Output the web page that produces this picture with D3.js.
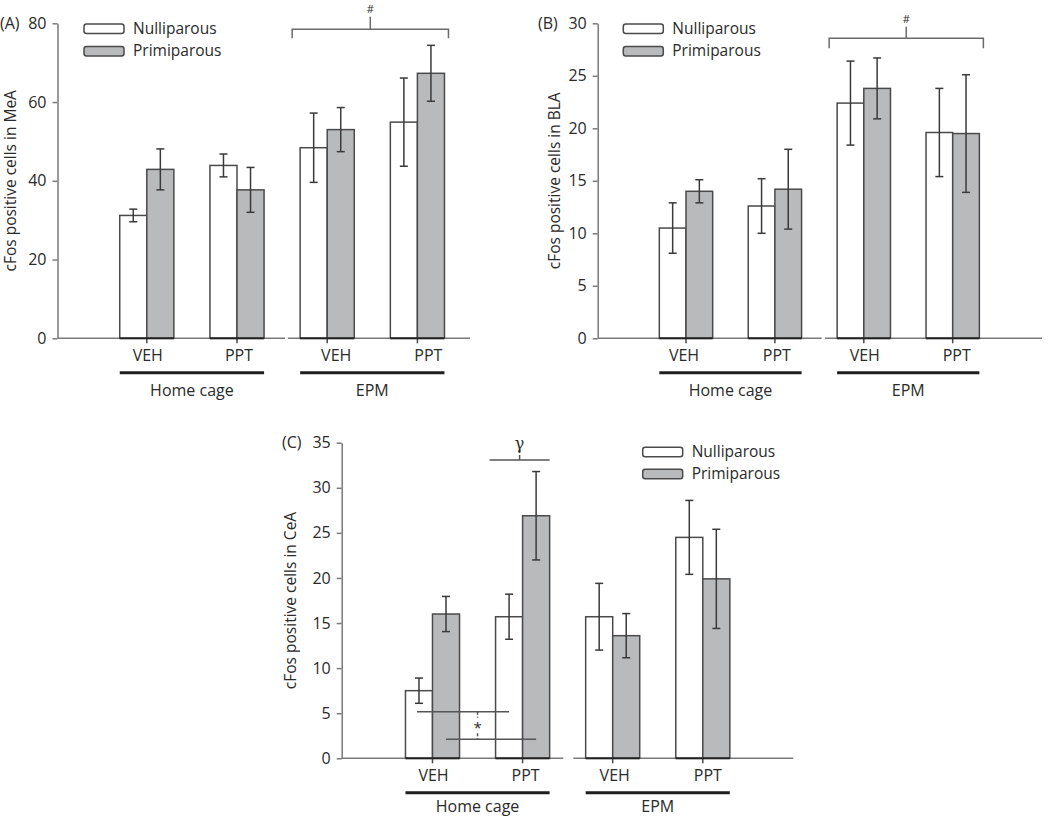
<!DOCTYPE html>
<html>
<head>
<meta charset="utf-8">
<script src="https://cdn.jsdelivr.net/npm/d3@7"></script>
<style>
  html, body { margin: 0; padding: 0; background: #fff; }
  svg { display: block; font-family: "Open Sans", "DejaVu Sans", sans-serif; }
</style>
</head>
<body>
<svg id="chart" width="1050" height="818"></svg>
<script>
// ---------- data ----------
const conditions = ["HC-VEH", "HC-PPT", "EPM-VEH", "EPM-PPT"];
const treatmentLabels = ["VEH", "PPT", "VEH", "PPT"];
const groupLabels = ["Home cage", "EPM"];
const seriesNames = ["Nulliparous", "Primiparous"];

const meaNulliparous = [31.2, 43.9, 48.4, 54.9];
const meaNulliparousErr = [1.6, 2.9, 8.8, 11.2];
const meaPrimiparous = [42.9, 37.7, 53.0, 67.3];
const meaPrimiparousErr = [5.2, 5.7, 5.6, 7.1];
const meaTicks = [0, 20, 40, 60, 80];

const blaNulliparous = [10.5, 12.6, 22.4, 19.6];
const blaNulliparousErr = [2.4, 2.6, 4.0, 4.2];
const blaPrimiparous = [14.0, 14.2, 23.8, 19.5];
const blaPrimiparousErr = [1.1, 3.8, 2.9, 5.6];
const blaTicks = [0, 5, 10, 15, 20, 25, 30];

const ceaNulliparous = [7.5, 15.7, 15.7, 24.5];
const ceaNulliparousErr = [1.4, 2.5, 3.7, 4.1];
const ceaPrimiparous = [16.0, 26.9, 13.6, 19.9];
const ceaPrimiparousErr = [1.95, 4.9, 2.45, 5.5];
const ceaTicks = [0, 5, 10, 15, 20, 25, 30, 35];

// ---------- layout ----------
const svg = d3.select("#chart");
const AXIS = "#7a7a7a", BAR_STROKE = "#4a4a4a", GRAY = "#b9babc", TEXT = "#2a2a2a";

const panels = [
  { letter: "(A)", letterX: 0, title: "cFos positive cells in MeA",
    nul: meaNulliparous, nulErr: meaNulliparousErr, pri: meaPrimiparous, priErr: meaPrimiparousErr,
    ticks: meaTicks, yMax: 80, yBottom: 338.3, yTop: 23.3, axisX: 57.5, titleX: 11,
    c0: 146.8, step: 90.2, seg1End: 285, seg2Start: 288, seg2End: 470,
    labelDx: [1, 2, 9, 11], groupLabelDy: 58,
    legendX: 84, legendY: 24, legendGap: 22.5,
    bracket: { value: 78.5, from: 2, to: 3, drop: 9, rise: 12.5, label: "#" } },
  { letter: "(B)", letterX: 538, title: "cFos positive cells in BLA",
    nul: blaNulliparous, nulErr: blaNulliparousErr, pri: blaPrimiparous, priErr: blaPrimiparousErr,
    ticks: blaTicks, yMax: 30, yBottom: 338.3, yTop: 23.3, axisX: 597.7, titleX: 555,
    c0: 686, step: 88.9, seg1End: 821.7, seg2Start: 825, seg2End: 1042,
    labelDx: [-2, 2, 1, 4], groupLabelDy: 58,
    legendX: 623.3, legendY: 24, legendGap: 22.5,
    bracket: { value: 28.57, from: 2, to: 3, drop: 10, rise: 11.6, label: "#" } },
  { letter: "(C)", letterX: 282, title: "cFos positive cells in CeA",
    nul: ceaNulliparous, nulErr: ceaNulliparousErr, pri: ceaPrimiparous, priErr: ceaPrimiparousErr,
    ticks: ceaTicks, yMax: 35, yBottom: 758.3, yTop: 442.7, axisX: 341.7, titleX: 290.5,
    c0: 432.5, step: 90.1, seg1End: 563.3, seg2Start: 573.3, seg2End: 793.3,
    labelDx: [1, 3, 2, 5], groupLabelDy: 54,
    legendX: 642.7, legendY: 447.3, legendGap: 22,
    gamma: { value: 33.07, cond: 1, label: "γ" },
    star: { upper: 5.15, lower: 2.1, label: "*" } }
];

function drawPanel(p) {
  const g = svg.append("g");
  const y = d3.scaleLinear().domain([0, p.yMax]).range([p.yBottom, p.yTop]);
  const x = d3.scaleBand().domain(conditions)
    .range([p.c0 - p.step / 2, p.c0 - p.step / 2 + 4 * p.step])
    .paddingInner(0.4).paddingOuter(0.2);
  const xs = d3.scaleBand().domain(seriesNames).range([0, x.bandwidth()]);

  // y axis
  const ya = g.append("g").attr("transform", `translate(${p.axisX},0)`)
    .call(d3.axisLeft(y).tickValues(p.ticks).tickSize(5).tickSizeOuter(0).tickPadding(6));
  ya.select(".domain").attr("stroke", AXIS).attr("stroke-width", 1.5);
  ya.selectAll(".tick line").attr("stroke", AXIS).attr("stroke-width", 1.5);
  ya.selectAll(".tick text").attr("fill", TEXT).style("font-size", "16px")
    .style("font-family", '"Open Sans", sans-serif');

  // y title
  g.append("text")
    .attr("transform", `translate(${p.titleX},${(p.yTop + p.yBottom) / 2}) rotate(-90)`)
    .attr("text-anchor", "middle").attr("dy", "0.35em")
    .attr("fill", TEXT).style("font-size", "15.5px").text(p.title);

  // panel letter
  g.append("text").attr("x", p.letterX).attr("y", p.yTop).attr("dy", "0.36em")
    .attr("fill", TEXT).style("font-size", "16px").text(p.letter);

  // broken x axis
  g.append("line").attr("x1", p.axisX).attr("x2", p.seg1End).attr("y1", p.yBottom).attr("y2", p.yBottom)
    .attr("stroke", AXIS).attr("stroke-width", 1.5);
  g.append("line").attr("x1", p.seg2Start).attr("x2", p.seg2End).attr("y1", p.yBottom).attr("y2", p.yBottom)
    .attr("stroke", AXIS).attr("stroke-width", 1.5);

  // x ticks & labels
  const xa = g.append("g").attr("transform", `translate(0,${p.yBottom})`)
    .call(d3.axisBottom(x).tickSize(5).tickSizeOuter(0).tickPadding(6)
      .tickFormat((d, i) => treatmentLabels[i]));
  xa.select(".domain").remove();
  xa.selectAll(".tick line").attr("stroke", BAR_STROKE).attr("stroke-width", 1.5);
  xa.selectAll(".tick text").attr("fill", TEXT).style("font-size", "16px")
    .style("font-family", '"Open Sans", sans-serif')
    .attr("dx", (d, i) => p.labelDx[i]);

  // bars
  const rows = conditions.map((c, i) => ([
    { c, s: seriesNames[0], v: p.nul[i], e: p.nulErr[i] },
    { c, s: seriesNames[1], v: p.pri[i], e: p.priErr[i] }
  ])).flat();

  g.selectAll("rect.bar").data(rows).join("rect").attr("class", "bar")
    .attr("x", d => x(d.c) + xs(d.s))
    .attr("y", d => y(d.v))
    .attr("width", xs.bandwidth())
    .attr("height", d => y(0) - y(d.v))
    .attr("fill", d => d.s === seriesNames[0] ? "#fff" : GRAY)
    .attr("stroke", BAR_STROKE).attr("stroke-width", 1.5);
  // dark bottom edge of bars
  g.selectAll("line.base").data(rows).join("line").attr("class", "base")
    .attr("x1", d => x(d.c) + xs(d.s)).attr("x2", d => x(d.c) + xs(d.s) + xs.bandwidth())
    .attr("y1", y(0)).attr("y2", y(0)).attr("stroke", "#222").attr("stroke-width", 2);

  // error bars
  const cx = d => x(d.c) + xs(d.s) + xs.bandwidth() / 2;
  const eb = g.selectAll("g.err").data(rows).join("g").attr("class", "err")
    .attr("stroke", "#3a3a3a").attr("stroke-width", 1.5);
  eb.append("line").attr("x1", cx).attr("x2", cx).attr("y1", d => y(d.v - d.e)).attr("y2", d => y(d.v + d.e));
  eb.append("line").attr("x1", d => cx(d) - 4).attr("x2", d => cx(d) + 4)
    .attr("y1", d => y(d.v + d.e)).attr("y2", d => y(d.v + d.e));
  eb.append("line").attr("x1", d => cx(d) - 4).attr("x2", d => cx(d) + 4)
    .attr("y1", d => y(d.v - d.e)).attr("y2", d => y(d.v - d.e));

  // group underlines and labels
  groupLabels.forEach((gl, k) => {
    const x1 = x(conditions[2 * k]), x2 = x(conditions[2 * k + 1]) + x.bandwidth();
    g.append("line").attr("x1", x1).attr("x2", x2)
      .attr("y1", p.yBottom + 34.5).attr("y2", p.yBottom + 34.5)
      .attr("stroke", "#1e1e1e").attr("stroke-width", 3);
    g.append("text").attr("x", (x1 + x2) / 2).attr("y", p.yBottom + p.groupLabelDy)
      .attr("text-anchor", "middle").attr("fill", TEXT).style("font-size", "16px").text(gl);
  });

  // legend
  seriesNames.forEach((s, k) => {
    const ly = p.legendY + k * p.legendGap;
    g.append("rect").attr("x", p.legendX).attr("y", ly).attr("width", 40).attr("height", 9.5)
      .attr("rx", 2.5).attr("fill", k === 0 ? "#fff" : GRAY)
      .attr("stroke", BAR_STROKE).attr("stroke-width", 1.5);
    g.append("text").attr("x", p.legendX + 49).attr("y", ly + 9.5)
      .attr("fill", TEXT).style("font-size", "15.5px").text(s);
  });

  // significance bracket (#)
  if (p.bracket) {
    const b = p.bracket;
    const bx1 = x(conditions[b.from]) - 8, bx2 = x(conditions[b.to]) + x.bandwidth() + 4;
    const by = y(b.value), mid = (bx1 + bx2) / 2;
    g.append("path")
      .attr("d", `M${bx1},${by + b.drop}V${by}H${bx2}V${by + b.drop}M${mid},${by}V${by - b.rise}`)
      .attr("fill", "none").attr("stroke", "#6a6a6a").attr("stroke-width", 1.5);
    g.append("text").attr("x", mid).attr("y", by - b.rise - 4).attr("text-anchor", "middle")
      .attr("fill", TEXT).style("font-size", "11px").text(b.label);
  }
  if (p.gamma) {
    const gm = p.gamma;
    const gx1 = x(conditions[gm.cond]) - 6, gx2 = x(conditions[gm.cond]) + x.bandwidth();
    const gy = y(gm.value), mid = (gx1 + gx2) / 2;
    g.append("path").attr("d", `M${gx1},${gy}H${gx2}M${mid},${gy}V${gy - 5}`)
      .attr("fill", "none").attr("stroke", "#555").attr("stroke-width", 1.5);
    g.append("text").attr("x", mid).attr("y", gy - 11).attr("text-anchor", "middle")
      .attr("fill", TEXT).style("font-size", "16px").style("font-family", '"DejaVu Serif", serif')
      .text(gm.label);
  }
  if (p.star) {
    const st = p.star;
    const n0 = { c: conditions[0], s: seriesNames[0] }, n1 = { c: conditions[1], s: seriesNames[0] };
    const p0 = { c: conditions[0], s: seriesNames[1] }, p1 = { c: conditions[1], s: seriesNames[1] };
    const yu = y(st.upper), yl = y(st.lower);
    g.append("line").attr("x1", cx(n0) - 2).attr("x2", cx(n1)).attr("y1", yu).attr("y2", yu)
      .attr("stroke", "#555").attr("stroke-width", 1.5);
    g.append("line").attr("x1", cx(p0)).attr("x2", cx(p1)).attr("y1", yl).attr("y2", yl)
      .attr("stroke", "#555").attr("stroke-width", 1.5);
    const sx = (cx(n0) + cx(p1)) / 2;
    g.append("line").attr("x1", sx).attr("x2", sx).attr("y1", yu).attr("y2", yu + 6)
      .attr("stroke", "#555").attr("stroke-width", 1.5).attr("stroke-dasharray", "3,2");
    g.append("line").attr("x1", sx).attr("x2", sx).attr("y1", yl - 6).attr("y2", yl)
      .attr("stroke", "#555").attr("stroke-width", 1.5).attr("stroke-dasharray", "3,2");
    g.append("text").attr("x", sx).attr("y", (yu + yl) / 2 + 7).attr("text-anchor", "middle")
      .attr("fill", TEXT).style("font-size", "15px").text(st.label);
  }
}

panels.forEach(drawPanel);
</script>
</body>
</html>
